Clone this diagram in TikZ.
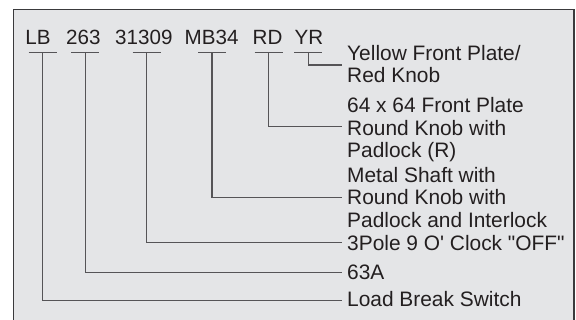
\documentclass[tikz,border=0pt]{standalone}
\usepackage{fontspec}
\newfontfamily\lblfont{Liberation Sans}
\usetikzlibrary{calc}
\definecolor{bgc}{HTML}{E4E5E7}
\definecolor{inkc}{HTML}{231F20}
\definecolor{wirec}{HTML}{555457}
\definecolor{framec}{HTML}{3A3A3C}
\newcommand\lines[1]{\vtop{\baselineskip=22.5pt #1}}
\begin{document}
\begin{tikzpicture}[x=1pt,y=-1pt,
  code/.style={anchor=base west,inner sep=0pt,font=\lblfont\fontsize{20.6}{22.5}\selectfont,text=inkc},
  desc/.style={anchor=base west,inner sep=0pt,font=\lblfont\fontsize{20.9}{22.5}\selectfont,text=inkc},
  wire/.style={draw=wirec,line width=1.3pt}]
\useasboundingbox (0,0) rectangle (576,320);
\fill[bgc] (13.5,9.5) rectangle (574,322);
\draw[framec,line width=1.5pt] (13.5,323) -- (13.5,9.5) -- (574,9.5) -- (574,323);
% codes
\node[code] (cLB) at (25.2,45) {LB};
\node[code] (c263) at (66,45) {263};
\node[code] (c31309) at (115,45) {31309};
\node[code] (cMB) at (184.5,45) {MB34};
\node[code] (cRD) at (252.5,45) {RD};
\node[code] (cYR) at (294.5,45) {YR};
% descriptions
\node[desc] (dYR) at (347,60.5) {\lines{\hbox{Yellow Front Plate/}\hbox{Red Knob}}};
\node[desc] (dRD) at (347,113) {\lines{\hbox{64 x 64 Front Plate}\hbox{Round Knob with}\hbox{Padlock (R)}}};
\node[desc] (dMB) at (347,182.5) {\lines{\hbox{Metal Shaft with}\hbox{Round Knob with}\hbox{Padlock and Interlock}}};
\node[desc] (d31309) at (347,250.5) {3Pole 9 O' Clock "OFF"};
\node[desc] (d263) at (347,280) {63A};
\node[desc] (dLB) at (347,307) {Load Break Switch};
% bar centres
\coordinate (bLB) at ($(cLB.base west)+(17.5,7.7)$);
\coordinate (b263) at ($(c263.base west)+(19.3,7.7)$);
\coordinate (b31309) at ($(c31309.base west)+(31.7,7.7)$);
\coordinate (bMB) at ($(cMB.base west)+(27.5,7.7)$);
\coordinate (bRD) at ($(cRD.base west)+(16.2,7.7)$);
\coordinate (bYR) at ($(cYR.base west)+(13.8,7.7)$);
\foreach \b in {bLB,b263,b31309,bMB,bRD,bYR}{
  \draw[wire] ($(\b)+(-14,0)$) -- ($(\b)+(14,0)$);
}
% connectors
\draw[wire] (bYR) |- ($(dYR.base west)+(-5,4.5)$);
\draw[wire] (bRD) |- ($(dRD.base west)+(-5,13.7)$);
\draw[wire] (bMB) |- ($(dMB.base west)+(-5,15.2)$);
\draw[wire] (b31309) |- ($(d31309.base west)+(-5,-7.8)$);
\draw[wire] (b263) |- ($(d263.base west)+(-5,-7.3)$);
\draw[wire] (bLB) |- ($(dLB.base west)+(-5,-6.7)$);
\end{tikzpicture}
\end{document}
